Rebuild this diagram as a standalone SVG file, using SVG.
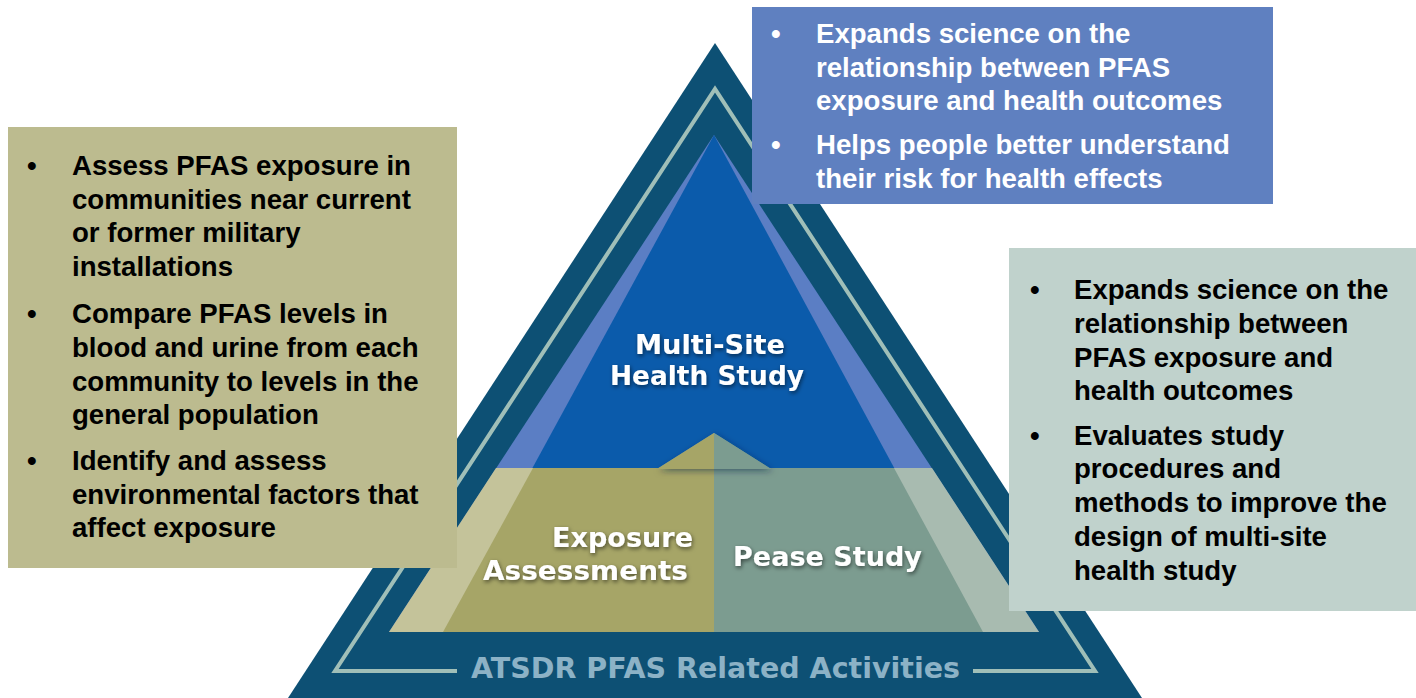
<svg xmlns="http://www.w3.org/2000/svg" width="1416" height="698" viewBox="0 0 1416 698">
<defs>
<style>
.box-text{font-family:"Liberation Sans",Arial,sans-serif;font-weight:bold;font-size:27.6px;}
.dark{fill:#000000;}
.light{fill:#ffffff;}
.tri-label{font-family:"DejaVu Sans",Verdana,sans-serif;font-weight:bold;font-size:26.5px;fill:#ffffff;}
</style>
<filter id="txtShadow" x="-10%" y="-30%" width="120%" height="160%">
<feDropShadow dx="1" dy="2" stdDeviation="2" flood-color="#000000" flood-opacity="0.55"/>
</filter>
<filter id="peakShadow" x="-30%" y="-60%" width="160%" height="220%">
<feDropShadow dx="2" dy="2" stdDeviation="3" flood-color="#001a40" flood-opacity="0.5"/>
</filter>
</defs>
<rect x="0" y="0" width="1416" height="698" fill="#ffffff"/>

<g id="pyramid">
<polygon points="715,43 288,698 1142,698" fill="#0d5074"/>
<polyline points="457,671 335,671 715,89 1095,671 973,671" fill="none" stroke="#a0bfb8" stroke-width="4" stroke-linejoin="miter"/>
<polygon points="714,135 389,632 1039,632" fill="#5b7ec4"/>
<polygon points="714,135 443,632 983,632" fill="#0b5bab"/>
<polygon points="496,468 714,468 714,632 389,632" fill="#c4c39a"/>
<polygon points="714,468 932,468 1039,632 714,632" fill="#a8bbb0"/>
<polygon points="533,468 714,468 714,632 443,632" fill="#a6a567"/>
<polygon points="714,468 894,468 983,632 714,632" fill="#7c9c90"/>
<polygon points="657,469 714,433 771,469" fill="#7c9c90" filter="url(#peakShadow)"/>
<polygon points="657,469 714,433 714,469" fill="#a6a567"/>
<polygon points="714,433 771,469 714,469" fill="#7c9c90"/>
</g>

<g id="label-multi-site" filter="url(#txtShadow)">
<text class="tri-label" x="635" y="354" textLength="150" lengthAdjust="spacingAndGlyphs">Multi-Site</text>
<text class="tri-label" x="610" y="385" textLength="194" lengthAdjust="spacingAndGlyphs">Health Study</text>
</g>
<g id="label-exposure" filter="url(#txtShadow)">
<text class="tri-label" x="552" y="547" textLength="141" lengthAdjust="spacingAndGlyphs">Exposure</text>
<text class="tri-label" x="483" y="580" textLength="205" lengthAdjust="spacingAndGlyphs">Assessments</text>
</g>
<g id="label-pease" filter="url(#txtShadow)">
<text class="tri-label" x="733" y="566" textLength="189" lengthAdjust="spacingAndGlyphs">Pease Study</text>
</g>
<g id="label-atsdr">
<text x="471" y="678" font-family="DejaVu Sans, Verdana, sans-serif" font-weight="bold" font-size="28" fill="#8cb2c6" textLength="489" lengthAdjust="spacingAndGlyphs">ATSDR PFAS Related Activities</text>
</g>

<g id="box-left">
<rect x="8" y="127" width="449" height="441" fill="#bcbb8f"/>
<g class="box-text dark">
<text x="27" y="175">•</text>
<text x="72" y="175">Assess PFAS exposure in</text>
<text x="72" y="209">communities near current</text>
<text x="72" y="242">or former military</text>
<text x="72" y="276">installations</text>
<text x="27" y="323">•</text>
<text x="72" y="323">Compare PFAS levels in</text>
<text x="72" y="357">blood and urine from each</text>
<text x="72" y="391">community to levels in the</text>
<text x="72" y="424">general population</text>
<text x="27" y="470">•</text>
<text x="72" y="470">Identify and assess</text>
<text x="72" y="504">environmental factors that</text>
<text x="72" y="537">affect exposure</text>
</g>
</g>

<g id="box-top">
<rect x="752" y="7" width="521" height="197" fill="#5f80c0"/>
<g class="box-text light">
<text x="771" y="43">•</text>
<text x="816" y="43">Expands science on the</text>
<text x="816" y="77">relationship between PFAS</text>
<text x="816" y="110">exposure and health outcomes</text>
<text x="771" y="154">•</text>
<text x="816" y="154">Helps people better understand</text>
<text x="816" y="188">their risk for health effects</text>
</g>
</g>

<g id="box-right">
<rect x="1009" y="248" width="407" height="363" fill="#c0d2cc"/>
<g class="box-text dark">
<text x="1030" y="299">•</text>
<text x="1074" y="299">Expands science on the</text>
<text x="1074" y="333">relationship between</text>
<text x="1074" y="367">PFAS exposure and</text>
<text x="1074" y="400">health outcomes</text>
<text x="1030" y="445">•</text>
<text x="1074" y="445">Evaluates study</text>
<text x="1074" y="478">procedures and</text>
<text x="1074" y="512">methods to improve the</text>
<text x="1074" y="546">design of multi-site</text>
<text x="1074" y="580">health study</text>
</g>
</g>

<g id="connectors"/>
</svg>
